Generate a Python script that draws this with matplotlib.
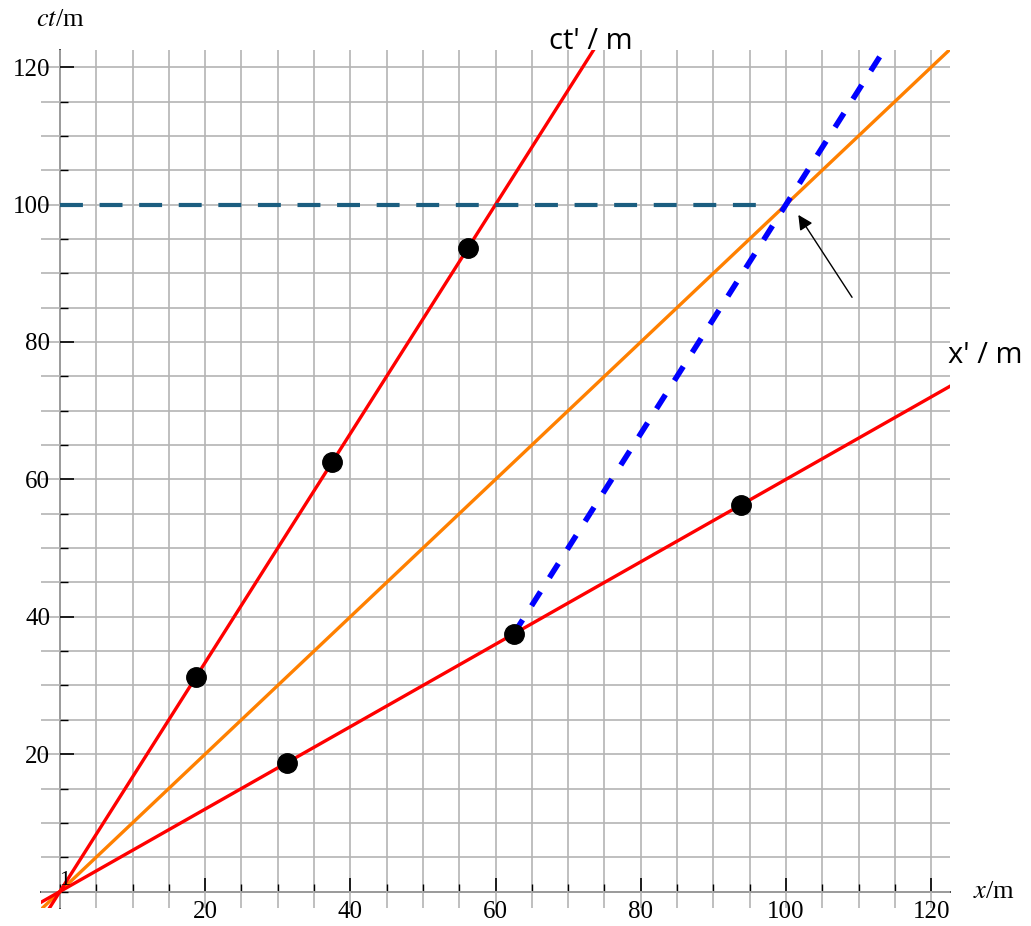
import numpy as np
import matplotlib
matplotlib.use('Agg')
import matplotlib.pyplot as plt
from matplotlib.ticker import MultipleLocator

# relative speed v/c of the moving frame
beta = 0.6

# events marked on the ct' axis and the x' axis
ct_axis_ev_x = [18.75, 37.5, 56.25]
ct_axis_ev_t = [31.25, 62.5, 93.75]
x_axis_ev_x = [31.25, 62.5, 93.75]
x_axis_ev_t = [18.75, 37.5, 56.25]

# range over which the frame axes / light line are drawn
line_range = np.array([-10.0, 140.0])

# worldline through (62.5, 37.5) parallel to ct'
blue_start = (62.5, 37.5)
blue_t = np.array([37.5, 140.0])

# dashed simultaneity line ct = 100
sim_x = [0, 98]
sim_t = [100, 100]

plt.rcParams['mathtext.fontset'] = 'stix'
serif = 'Liberation Serif'

fig = plt.figure(figsize=(10.31, 9.26), dpi=100)
ax = fig.add_axes([0.0398, 0.0194, 0.8817, 0.9266])
ax.set_xlim(-2.6, 122.6)
ax.set_ylim(-2.4, 122.5)

ax.xaxis.set_major_locator(MultipleLocator(20))
ax.xaxis.set_minor_locator(MultipleLocator(5))
ax.yaxis.set_major_locator(MultipleLocator(20))
ax.yaxis.set_minor_locator(MultipleLocator(5))
ax.grid(True, which='both', color='#b4b4b4', lw=1.2, zorder=0)

for s in ['top', 'right']:
    ax.spines[s].set_visible(False)
for s in ['left', 'bottom']:
    ax.spines[s].set_position('zero')
    ax.spines[s].set_linewidth(1.2)
    ax.spines[s].set_zorder(1)

ax.tick_params(which='major', direction='in', length=10, width=1.2, pad=7)
ax.tick_params(which='minor', direction='in', length=6, width=1.0)
ax.set_xticks([20, 40, 60, 80, 100, 120])
ax.set_yticks([20, 40, 60, 80, 100, 120])
for lab in ax.get_xticklabels() + ax.get_yticklabels():
    lab.set_fontfamily(serif)
    lab.set_fontsize(18)

# light line
ax.plot(line_range, line_range, color='#ff8000', lw=2.4, zorder=3)
# ct' axis and x' axis
ax.plot(beta * line_range, line_range, color='red', lw=2.4, zorder=3)
ax.plot(line_range, beta * line_range, color='red', lw=2.4, zorder=3)

blue_x = blue_start[0] + beta * (blue_t - blue_start[1])
ax.plot(blue_x, blue_t, color='blue', lw=4, ls=(0, (3, 3)), zorder=4)
ax.plot(sim_x, sim_t, color='#1b5e80', lw=3, ls=(0, (5.5, 4)), zorder=4)

ax.plot(ct_axis_ev_x, ct_axis_ev_t, 'o', color='black', ms=14, zorder=5)
ax.plot(x_axis_ev_x, x_axis_ev_t, 'o', color='black', ms=14, zorder=5)

ax.annotate('', xy=(101.7, 98.5), xytext=(109.1, 86.5),
            arrowprops=dict(arrowstyle='-|>', color='black', lw=1.0,
                            mutation_scale=22, shrinkA=0, shrinkB=0),
            zorder=6)

ax.text(0.7, 1.6, '1', fontfamily=serif, fontsize=16, ha='center', va='center')
ax.text(0, 126.8, r'$ct$/m', fontfamily=serif, fontsize=19, ha='center',
        va='center', clip_on=False)
ax.text(125.8, 0, r'$x$/m', fontfamily=serif, fontsize=19, ha='left',
        va='center', clip_on=False)
ax.text(67.4, 123.8, "ct' / m", fontfamily='Open Sans', fontsize=21,
        ha='left', va='center', clip_on=False)
ax.text(122.3, 78.1, "x' / m", fontfamily='Open Sans', fontsize=21,
        ha='left', va='center', clip_on=False)

fig.savefig('out.png', dpi=100)
